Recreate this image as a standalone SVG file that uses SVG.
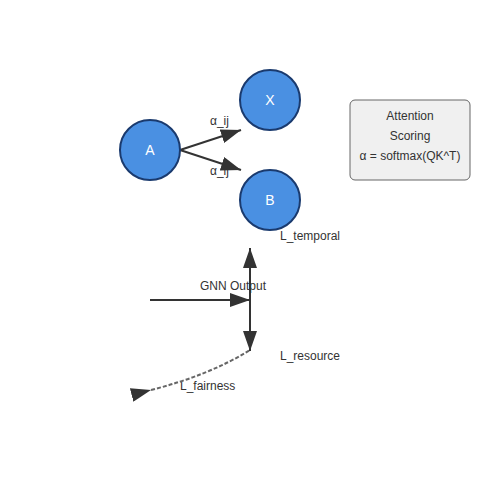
<svg xmlns="http://www.w3.org/2000/svg" width="500" height="500" viewBox="0 0 500 500">
<style>
.node{fill:#4a90e2;stroke:#1a3a6e;stroke-width:2}
.nl{font-family:"Liberation Sans",Arial,sans-serif;font-size:14px;fill:#fff;text-anchor:middle}
.lbl{font-family:"Liberation Sans",Arial,sans-serif;font-size:12px;fill:#333}
.edge{stroke:#333;stroke-width:2;fill:none}
.dash{stroke:#666;stroke-width:2;fill:none;stroke-dasharray:4,2}
.box{fill:#f0f0f0;stroke:#666;stroke-width:1}
.bt{font-family:"Liberation Sans",Arial,sans-serif;font-size:12px;fill:#333;text-anchor:middle}
</style>
<defs>
<marker id="arr" viewBox="0 0 20 14" markerWidth="20" markerHeight="14" refX="20" refY="7" orient="auto" markerUnits="userSpaceOnUse">
<polygon points="0,0 20,7 0,14" fill="#333"/>
</marker>
</defs>
<rect width="500" height="500" fill="#fff"/>
<g id="labels">
<text class="lbl" x="210" y="125">α_ij</text>
<text class="lbl" x="210" y="175">α_ij</text>
<text class="lbl" x="280" y="240">L_temporal</text>
<text class="lbl" x="200" y="290">GNN Output</text>
<text class="lbl" x="280" y="360">L_resource</text>
<text class="lbl" x="180" y="390">L_fairness</text>
</g>
<g id="connectors">
<line class="edge" x1="180" y1="150" x2="241" y2="130" marker-end="url(#arr)"/>
<line class="edge" x1="180" y1="150" x2="241" y2="170" marker-end="url(#arr)"/>
<line class="edge" x1="150" y1="300" x2="250" y2="300" marker-end="url(#arr)"/>
<line class="edge" x1="250" y1="300" x2="250" y2="248" marker-end="url(#arr)"/>
<line class="edge" x1="250" y1="300" x2="250" y2="351" marker-end="url(#arr)"/>
<path class="dash" d="M151,390 Q210,375 250,350" marker-start="url(#arr)"/>
</g>
<g id="node-A"><circle class="node" cx="150" cy="150" r="30"/><text class="nl" x="150" y="155">A</text></g>
<g id="node-X"><circle class="node" cx="270" cy="100" r="30"/><text class="nl" x="270" y="105">X</text></g>
<g id="node-B"><circle class="node" cx="270" cy="200" r="30"/><text class="nl" x="270" y="205">B</text></g>
<g id="attention-box">
<rect class="box" x="350" y="100" width="120" height="80" rx="5"/>
<text class="bt" x="410" y="120">Attention</text>
<text class="bt" x="410" y="140">Scoring</text>
<text class="bt" x="410" y="160">α = softmax(QK^T)</text>
</g>
</svg>
